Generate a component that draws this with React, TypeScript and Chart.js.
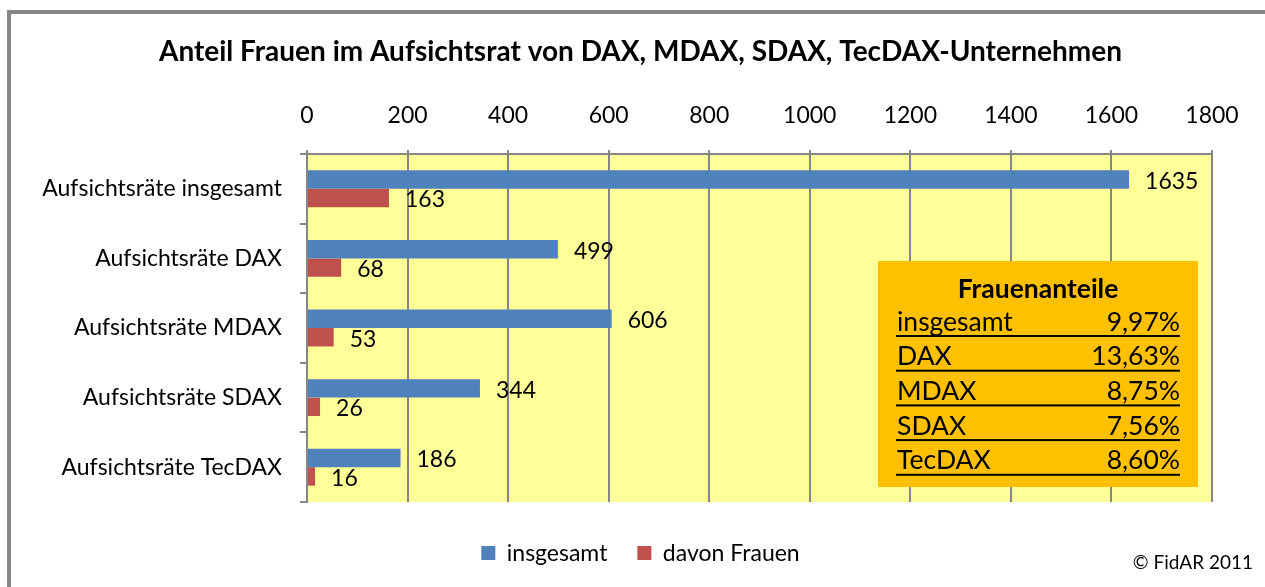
import React, { useEffect, useRef } from "react";
import { Chart, registerables } from "chart.js";

Chart.register(...registerables);

const chartTitle = "Anteil Frauen im Aufsichtsrat von DAX, MDAX, SDAX, TecDAX-Unternehmen";
const categories = [
  "Aufsichtsräte insgesamt",
  "Aufsichtsräte DAX",
  "Aufsichtsräte MDAX",
  "Aufsichtsräte SDAX",
  "Aufsichtsräte TecDAX",
];
const seriesNames = ["insgesamt", "davon Frauen"];
const totalValues = [1635, 499, 606, 344, 186];
const womenValues = [163, 68, 53, 26, 16];
const axisMin = 0;
const axisMax = 1800;
const axisStep = 200;
const tableTitle = "Frauenanteile";
const shareLabels = ["insgesamt", "DAX", "MDAX", "SDAX", "TecDAX"];
const shareValues = ["9,97%", "13,63%", "8,75%", "7,56%", "8,60%"];
const copyrightText = "© FidAR 2011";

const FONT = "Lato, 'Open Sans', sans-serif";
const BLUE = "#4F81BD";
const RED = "#C0504D";
const GRID = "#868686";
const TXT = 23;

const backgroundPlugin = {
  id: "bgFrame",
  beforeDraw(chart: any) {
    const { ctx, chartArea, width, height } = chart;
    ctx.save();
    ctx.fillStyle = "#ffffff";
    ctx.fillRect(0, 0, width, height);
    ctx.strokeStyle = GRID;
    ctx.lineWidth = 4;
    ctx.strokeRect(9, 12, width + 20, height + 20);
    ctx.fillStyle = "#FFFF99";
    ctx.fillRect(chartArea.left, chartArea.top, chartArea.right - chartArea.left, chartArea.bottom - chartArea.top);
    ctx.restore();
  },
};

const valueLabelPlugin = {
  id: "valueLabels",
  afterDatasetsDraw(chart: any) {
    const { ctx } = chart;
    ctx.save();
    ctx.font = `${TXT}px ${FONT}`;
    ctx.fillStyle = "#000";
    ctx.textAlign = "left";
    ctx.textBaseline = "middle";
    chart.data.datasets.forEach((ds: any, di: number) => {
      const meta = chart.getDatasetMeta(di);
      meta.data.forEach((el: any, i: number) => {
        ctx.fillText(String(ds.data[i]), el.x + 16, el.y + 2);
      });
    });
    ctx.restore();
  },
};

const tablePlugin = {
  id: "shareTable",
  afterDraw(chart: any) {
    const { ctx, chartArea } = chart;
    const w = 320;
    const h = 226;
    const right = chartArea.right - 14;
    const bottom = chartArea.bottom - 15;
    const left = right - w;
    const top = bottom - h;
    ctx.save();
    ctx.fillStyle = "#FFC000";
    ctx.fillRect(left, top, w, h);
    ctx.fillStyle = "#000";
    ctx.textBaseline = "middle";
    ctx.font = `bold 26.5px ${FONT}`;
    ctx.textAlign = "center";
    ctx.fillText(tableTitle, left + w / 2, top + 28);
    ctx.font = `26.5px ${FONT}`;
    shareLabels.forEach((lab, i) => {
      const y = top + 61 + i * 34.7;
      ctx.textAlign = "left";
      ctx.fillText(lab, left + 19, y);
      ctx.textAlign = "right";
      ctx.fillText(shareValues[i], right - 18, y);
      ctx.fillRect(left + 18, y + 13, w - 36, 2);
    });
    ctx.restore();
  },
};

const copyrightPlugin = {
  id: "copyright",
  afterDraw(chart: any) {
    const { ctx, width } = chart;
    ctx.save();
    ctx.font = `19px ${FONT}`;
    ctx.fillStyle = "#000";
    ctx.textAlign = "right";
    ctx.textBaseline = "middle";
    ctx.fillText(copyrightText, width - 12, 563);
    ctx.restore();
  },
};

export default function App() {
  const ref = useRef<HTMLCanvasElement | null>(null);
  useEffect(() => {
    if (!ref.current) return;
    const chart = new Chart(ref.current, {
      type: "bar",
      data: {
        labels: categories,
        datasets: [
          { label: seriesNames[0], data: totalValues, backgroundColor: BLUE, borderWidth: 0 },
          { label: seriesNames[1], data: womenValues, backgroundColor: RED, borderWidth: 0 },
        ],
      },
      options: {
        indexAxis: "y",
        responsive: false,
        animation: false,
        events: [],
        categoryPercentage: 0.53,
        barPercentage: 1,
        layout: { padding: { left: 30, right: 14, top: 14, bottom: 12.4 } },
        scales: {
          x: {
            position: "top",
            min: axisMin,
            max: axisMax,
            ticks: {
              stepSize: axisStep,
              color: "#000",
              font: { family: FONT, size: TXT },
              padding: 21,
              callback: (v: any) => String(v),
            },
            grid: { color: GRID, lineWidth: 2, tickLength: 4, drawTicks: true },
            border: { color: GRID, width: 2 },
            afterFit: (s: any) => {
              s.height = 79.2;
            },
          },
          y: {
            ticks: { color: "#000", font: { family: FONT, size: TXT }, padding: 18 },
            grid: { drawOnChartArea: false, drawTicks: true, tickLength: 7, color: GRID, lineWidth: 2, offset: true },
            border: { color: GRID, width: 2 },
            afterFit: (s: any) => {
              s.width = 277;
            },
          },
          spacer: {
            type: "category",
            position: "right",
            labels: categories,
            ticks: { display: false },
            grid: { display: false },
            border: { display: false },
            afterFit: (s: any) => {
              s.width = 39;
            },
          },
        },
        plugins: {
          title: {
            display: true,
            text: chartTitle,
            color: "#000",
            font: { family: FONT, size: 28, weight: "bold" },
            padding: { top: 21.2, bottom: 6 },
          },
          legend: {
            position: "bottom",
            title: { display: true, text: "", font: { size: 8 }, padding: 0 },
            labels: {
              color: "#000",
              font: { family: FONT, size: TXT },
              boxWidth: 14,
              boxHeight: 14,
              padding: 30,
            },
          },
          tooltip: { enabled: false },
        },
      },
      plugins: [backgroundPlugin, valueLabelPlugin, tablePlugin, copyrightPlugin],
    } as any);
    return () => chart.destroy();
  }, []);
  return (
    <div style={{ position: "absolute", left: 0, top: 0, width: 1265, height: 587 }}>
      <canvas ref={ref} width={1265} height={587} style={{ display: "block" }} />
    </div>
  );
}
